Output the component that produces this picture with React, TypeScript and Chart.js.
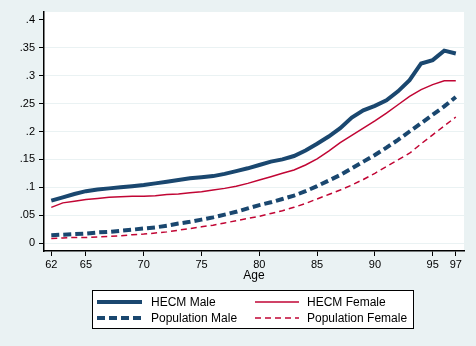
import React, { useEffect, useRef } from "react";
import { Chart, registerables } from "chart.js";

Chart.register(...registerables);

const ages = [62, 63, 64, 65, 66, 67, 68, 69, 70, 71, 72, 73, 74, 75, 76, 77, 78, 79, 80, 81, 82, 83, 84, 85, 86, 87, 88, 89, 90, 91, 92, 93, 94, 95, 96, 97];

const hecmMale = [0.076, 0.082, 0.088, 0.093, 0.096, 0.098, 0.100, 0.102, 0.104, 0.107, 0.110, 0.113, 0.116, 0.118, 0.120, 0.124, 0.129, 0.134, 0.140, 0.146, 0.150, 0.156, 0.166, 0.178, 0.191, 0.206, 0.225, 0.238, 0.246, 0.256, 0.272, 0.292, 0.322, 0.328, 0.345, 0.340];
const hecmFemale = [0.064, 0.072, 0.075, 0.078, 0.080, 0.082, 0.083, 0.084, 0.084, 0.085, 0.087, 0.088, 0.090, 0.092, 0.095, 0.098, 0.102, 0.107, 0.113, 0.119, 0.125, 0.131, 0.140, 0.151, 0.165, 0.180, 0.193, 0.206, 0.219, 0.233, 0.248, 0.263, 0.275, 0.284, 0.291, 0.291];
const popMale = [0.014, 0.015, 0.016, 0.017, 0.019, 0.020, 0.022, 0.024, 0.026, 0.028, 0.031, 0.035, 0.038, 0.042, 0.046, 0.051, 0.056, 0.062, 0.068, 0.073, 0.079, 0.085, 0.093, 0.102, 0.112, 0.122, 0.134, 0.146, 0.158, 0.171, 0.185, 0.200, 0.215, 0.230, 0.245, 0.262];
const popFemale = [0.008, 0.009, 0.010, 0.010, 0.011, 0.012, 0.013, 0.015, 0.016, 0.018, 0.020, 0.023, 0.026, 0.029, 0.032, 0.036, 0.040, 0.044, 0.048, 0.053, 0.058, 0.064, 0.071, 0.079, 0.087, 0.095, 0.104, 0.114, 0.125, 0.137, 0.149, 0.161, 0.178, 0.194, 0.210, 0.226];

const seriesLabels = ["HECM Male", "HECM Female", "Population Male", "Population Female"];
const xTickValues = [62, 65, 70, 75, 80, 85, 90, 95, 97];
const yTickValues = [0, 0.05, 0.1, 0.15, 0.2, 0.25, 0.3, 0.35, 0.4];
const xTitle = "Age";

const NAVY = "#1A476F";
const RED = "#C10534";
const BG = "#EAF2F3";
const FONT = '"Liberation Sans", Arial, Helvetica, sans-serif';

function fmtY(v: number): string {
  if (Math.abs(v) < 1e-9) return "0";
  return String(parseFloat(v.toFixed(2))).replace(/^0/, "");
}

const plotBg = {
  id: "plotBg",
  beforeDraw(chart: any) {
    const { ctx, chartArea: a } = chart;
    ctx.save();
    ctx.fillStyle = BG;
    ctx.fillRect(0, 0, chart.width, chart.height);
    ctx.fillStyle = "#ffffff";
    ctx.fillRect(a.left, a.top, a.right - a.left, a.bottom - a.top);
    ctx.restore();
  },
};

const boxLegend = {
  id: "boxLegend",
  afterDraw(chart: any) {
    const { ctx } = chart;
    const left = 92, top = 290, w = 322, h = 39;
    ctx.save();
    ctx.fillStyle = "#ffffff";
    ctx.fillRect(left, top, w, h);
    ctx.strokeStyle = "#000";
    ctx.lineWidth = 1;
    ctx.strokeRect(left + 0.5, top + 0.5, w - 1, h - 1);
    const rows = [302, 318];
    const cols = [
      { l0: 97, l1: 142, t: 151 },
      { l0: 255, l1: 299, t: 307 },
    ];
    ctx.font = "12px " + FONT;
    ctx.textBaseline = "middle";
    chart.data.datasets.forEach((ds: any, i: number) => {
      const c = cols[i % 2];
      const y = rows[Math.floor(i / 2)];
      ctx.beginPath();
      ctx.strokeStyle = ds.borderColor;
      ctx.lineWidth = ds.borderWidth;
      ctx.setLineDash(ds.borderDash || []);
      ctx.lineCap = "butt";
      ctx.moveTo(c.l0, y);
      ctx.lineTo(c.l1, y);
      ctx.stroke();
      ctx.setLineDash([]);
      ctx.fillStyle = "#000";
      ctx.fillText(ds.label, c.t, y + 0.5);
    });
    ctx.restore();
  },
};

export default function App() {
  const ref = useRef<HTMLCanvasElement | null>(null);

  useEffect(() => {
    document.body.style.margin = "0";
    const mk = (vals: number[]) => ages.map((a, i) => ({ x: a, y: vals[i] }));
    const chart = new Chart(ref.current as HTMLCanvasElement, {
      type: "line",
      data: {
        datasets: [
          { label: seriesLabels[0], data: mk(hecmMale), borderColor: NAVY, borderWidth: 4, pointRadius: 0, fill: false },
          { label: seriesLabels[1], data: mk(hecmFemale), borderColor: RED, borderWidth: 1.5, pointRadius: 0, fill: false },
          { label: seriesLabels[2], data: mk(popMale), borderColor: NAVY, borderWidth: 4, borderDash: [8, 4], pointRadius: 0, fill: false },
          { label: seriesLabels[3], data: mk(popFemale), borderColor: RED, borderWidth: 1.5, borderDash: [6, 4], pointRadius: 0, fill: false },
        ],
      },
      options: {
        responsive: false,
        animation: false,
        layout: { padding: { top: 12, right: 12, bottom: 63, left: 0 } },
        plugins: { legend: { display: false }, tooltip: { enabled: false } },
        scales: {
          x: {
            type: "linear",
            min: 61.37,
            max: 97.71,
            afterBuildTicks: (s: any) => {
              s.ticks = xTickValues.map((v) => ({ value: v }));
            },
            afterFit: (s: any) => {
              s.height = 32;
            },
            ticks: {
              autoSkip: false,
              maxRotation: 0,
              padding: 2,
              color: "#000",
              font: { family: FONT, size: 11 },
              callback: (v: any) => String(v),
            },
            grid: { drawOnChartArea: false, tickLength: 5, tickColor: "#000", tickWidth: 1 },
            border: { display: true, color: "#000", width: 1.5 },
            title: { display: true, text: xTitle, color: "#000", font: { family: FONT, size: 12 }, padding: 0 },
          },
          y: {
            type: "linear",
            min: -0.0143,
            max: 0.4143,
            afterBuildTicks: (s: any) => {
              s.ticks = yTickValues.map((v) => ({ value: v }));
            },
            afterFit: (s: any) => {
              s.width = 44;
            },
            ticks: {
              padding: 4,
              color: "#000",
              font: { family: FONT, size: 11 },
              callback: (v: any) => fmtY(Number(v)),
            },
            grid: {
              color: (c: any) => (c.tick && Math.abs(c.tick.value - 0.4) < 1e-9 ? "rgba(0,0,0,0)" : BG),
              lineWidth: 1,
              tickLength: 5,
              tickColor: "#000",
              tickWidth: 1,
            },
            border: { display: true, color: "#000", width: 1.5 },
          },
        },
      } as any,
      plugins: [plotBg, boxLegend],
    });
    return () => chart.destroy();
  }, []);

  return (
    <div style={{ position: "absolute", left: 0, top: 0, width: 476, height: 346, background: BG }}>
      <canvas ref={ref} width={476} height={346} style={{ display: "block", width: 476, height: 346 }} />
    </div>
  );
}
